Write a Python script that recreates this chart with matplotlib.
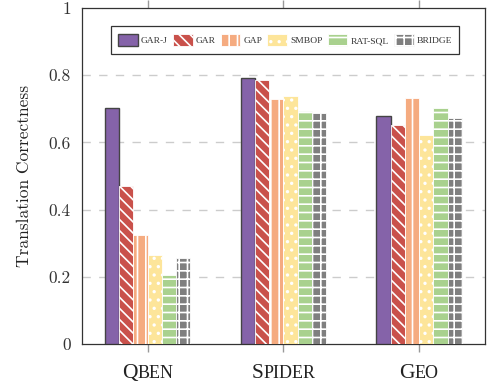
import numpy as np
import matplotlib
matplotlib.use("Agg")
import matplotlib.pyplot as plt
from matplotlib.transforms import offset_copy, blended_transform_factory

# data
datasets = ["Qben", "Spider", "Geo"]
systems = ["Gar-j", "Gar", "Gap", "Smbop", "Rat-sql", "Bridge"]
gar_j = [0.702, 0.792, 0.679]
gar = [0.470, 0.786, 0.652]
gap = [0.324, 0.729, 0.732]
smbop = [0.265, 0.738, 0.622]
rat_sql = [0.205, 0.693, 0.702]
bridge = [0.256, 0.688, 0.673]
yticks = [0, 0.2, 0.4, 0.6, 0.8, 1]
ytick_labels = ["0", "0.2", "0.4", "0.6", "0.8", "1"]

series = [gar_j, gar, gap, smbop, rat_sql, bridge]
colors = ["#8563a9", "#c9514b", "#f5ab80", "#fde59a", "#a9d18e", "#7f7f7f"]
hatches = [None, "\\\\\\", "||", "..", "--", "++"]

plt.rcParams["hatch.color"] = "white"
plt.rcParams["hatch.linewidth"] = 1.2

fig = plt.figure(figsize=(4.87, 3.85), dpi=100)
ax = fig.add_axes([0.168, 0.1065, 0.828, 0.8725])

x = np.arange(len(datasets))
w = 0.105
handles = []
for i, (vals, c, h) in enumerate(zip(series, colors, hatches)):
    if h is None:
        b = ax.bar(x + (i - 2.5) * w, vals, w, color=c, edgecolor="#444444",
                   linewidth=1.0, zorder=3)
    else:
        b = ax.bar(x + (i - 2.5) * w, vals, w, color=c, edgecolor="white",
                   linewidth=0.6, hatch=h, zorder=3)
    handles.append(b)

ax.set_xlim(-0.485, 2.485)
ax.set_ylim(0, 1)
ax.set_yticks(yticks)
ax.set_yticklabels(ytick_labels, fontfamily="cmr10", fontsize=12.5, color="#333333")
ax.tick_params(axis="y", length=0, pad=8)
ax.set_xticks(x)
ax.set_xticklabels([])
ax.tick_params(axis="x", direction="out", length=6, color="#999999", width=1,
               top=True)
for y in yticks[1:-1]:
    ax.axhline(y, color="#cccccc", linestyle=(0, (6, 6)), linewidth=1, zorder=1)
for s in ax.spines.values():
    s.set_color("#333333")
    s.set_linewidth(0.9)

ax.set_ylabel("Translation Correctness", fontfamily="cmr10", fontsize=12.5,
              color="#222222", labelpad=12)

# small caps category labels
renderer = fig.canvas.get_renderer()
trans = blended_transform_factory(ax.transData, ax.transAxes)
for xi, name in zip(x, datasets):
    first, rest = name[0], name[1:].upper()
    kw = dict(fontfamily="Liberation Serif", color="#222222", va="baseline", ha="left")
    t1 = ax.text(0, 0, first, fontsize=15.5, **kw)
    t2 = ax.text(0, 0, rest, fontsize=13, **kw)
    w1 = t1.get_window_extent(renderer).width
    w2 = t2.get_window_extent(renderer).width
    tot = w1 + w2
    t1.set_position((xi, -0.101))
    t2.set_position((xi, -0.101))
    t1.set_transform(offset_copy(trans, fig=fig, x=-tot / 2, y=0, units="dots"))
    t2.set_transform(offset_copy(trans, fig=fig, x=-tot / 2 + w1, y=0, units="dots"))
    t1.set_clip_on(False)
    t2.set_clip_on(False)

leg = ax.legend(handles, [s.upper() for s in systems], loc="center",
                bbox_to_anchor=(0.504, 0.905), ncol=6,
                prop={"family": "Liberation Serif", "size": 6.8},
                frameon=True, fancybox=False, edgecolor="#333333", framealpha=1,
                handlelength=2.1, handleheight=1.6, handletextpad=0.3,
                columnspacing=0.55, borderpad=0.8, borderaxespad=0)
leg.get_frame().set_linewidth(0.9)
for t in leg.get_texts():
    t.set_color("#333333")

fig.savefig("out.png", dpi=100)
